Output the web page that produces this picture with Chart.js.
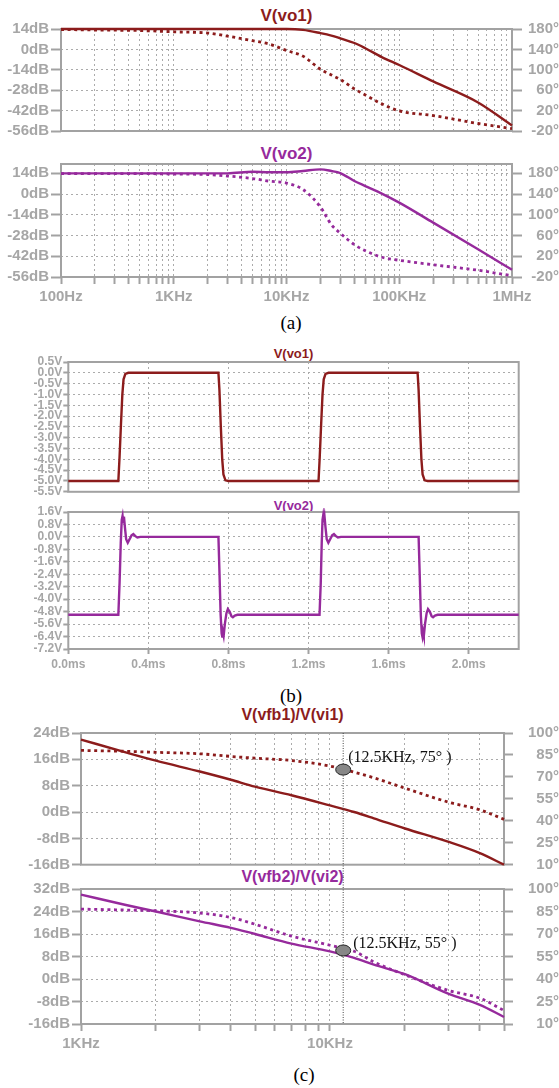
<!DOCTYPE html>
<html>
<head>
<meta charset="utf-8">
<title>LTspice plots</title>
<script src="https://cdn.jsdelivr.net/npm/chart.js@4.4.1/dist/chart.umd.min.js"></script>
<style>
  body { margin: 0; width: 559px; height: 1088px; background: #fff; position: relative; overflow: hidden; }
  canvas { position: absolute; left: 0; }
  .ttl { position: absolute; transform: translate(-50%, -50%); font-family: "Liberation Sans", Arial, sans-serif; font-weight: bold; white-space: nowrap; line-height: 1; }
  .cap { position: absolute; transform: translate(-50%, -50%); font-family: "Liberation Serif", "Times New Roman", serif; font-size: 19px; line-height: 1; }
</style>
</head>
<body>
<div class="ttl" style="left:286.5px;top:15px;font-size:17px;color:#8c1c1c">V(vo1)</div>
<div class="ttl" style="left:286.5px;top:153px;font-size:17px;color:#962a9c">V(vo2)</div>
<div class="cap" style="left:291px;top:322px">(a)</div>
<div class="ttl" style="left:293.5px;top:353px;font-size:13px;color:#8c1c1c">V(vo1)</div>
<div class="ttl" style="left:293.5px;top:505px;font-size:13px;color:#962a9c">V(vo2)</div>
<div class="cap" style="left:291px;top:695px">(b)</div>
<div class="ttl" style="left:292.5px;top:715px;font-size:16px;color:#8c1c1c">V(vfb1)/V(vi1)</div>
<div class="ttl" style="left:292.5px;top:877px;font-size:16px;color:#962a9c">V(vfb2)/V(vi2)</div>
<div class="cap" style="left:304px;top:1074px">(c)</div>
<script>
// (a) frequency response, 100Hz .. 1MHz
const aFreq = [100, 200, 500, 1000, 2000, 3000, 5000, 7000, 10000, 14000, 20000, 25000, 30000, 40000, 50000, 70000, 100000, 200000, 500000, 1000000];
const vo1Mag   = [14, 14, 14, 14, 14, 14, 14, 14, 14, 13.4, 11.2, 9.5, 7.6, 4.4, 0.8, -5.3, -10.7, -22, -36.4, -52.2];
const vo1Phase = [179, 178, 177, 174.5, 172, 166, 157, 150.6, 137.8, 126.8, 101, 90, 81, 62.6, 50.6, 33.2, 19.4, 10.3, -5.3, -15.4];
const vo2Mag   = [14, 14, 14, 14, 14, 14, 15.1, 14.7, 14.7, 15.6, 16.7, 15.6, 14.2, 8.8, 5.4, 0.3, -5.8, -19.3, -37.3, -51.1];
const vo2Phase = [179.6, 179.6, 179.6, 178.6, 177.7, 174.8, 170, 165, 161.2, 148.7, 115, 81, 64.5, 42.3, 30.7, 18.1, 12.3, 3.6, -7, -17.7];
const aFreqTicks  = [100, 1000, 10000, 100000, 1000000];
const aFreqLabels = ['100Hz', '1KHz', '10KHz', '100KHz', '1MHz'];
const aDbTicks    = [14, 0, -14, -28, -42, -56];
const aDbLabels   = ['14dB', '0dB', '-14dB', '-28dB', '-42dB', '-56dB'];
const aDegTicks   = [180, 140, 100, 60, 20, -20];
const aDegLabels  = ['180°', '140°', '100°', '60°', '20°', '-20°'];

// (b) transient, ms / V
const vo1T = [0, 0.25, 0.256, 0.263, 0.27, 0.276, 0.285, 0.30, 0.75, 0.755, 0.762, 0.769, 0.775, 0.785, 0.80,
              1.25, 1.256, 1.263, 1.27, 1.276, 1.285, 1.30, 1.745, 1.75, 1.757, 1.764, 1.77, 1.78, 1.795, 2.25];
const vo1V = [-5, -5, -3.9, -2.4, -1.0, -0.3, -0.05, 0, 0, -0.8, -2.5, -4.0, -4.7, -4.97, -5,
              -5, -3.9, -2.4, -1.0, -0.3, -0.05, 0, 0, -0.8, -2.5, -4.0, -4.7, -4.97, -5, -5];
const vo2T = [0, 0.25, 0.256, 0.262, 0.267, 0.271, 0.274, 0.278, 0.283, 0.289, 0.297, 0.306, 0.316, 0.325, 0.335, 0.345, 0.36,
              0.75, 0.755, 0.761, 0.766, 0.769, 0.772, 0.776, 0.782, 0.79, 0.797, 0.806, 0.815, 0.822, 0.832, 0.845,
              1.255, 1.261, 1.266, 1.27, 1.273, 1.276, 1.28, 1.285, 1.291, 1.299, 1.308, 1.318, 1.327, 1.337, 1.347, 1.362,
              1.75, 1.755, 1.761, 1.766, 1.769, 1.772, 1.776, 1.782, 1.79, 1.797, 1.806, 1.815, 1.822, 1.832, 1.845, 2.25];
const vo2V = [-5, -5, -3.0, -0.4, 1.1, 1.35, 0.95, 1.3, 0.6, -0.15, -0.38, -0.15, 0.1, 0.18, 0.05, -0.04, 0,
              0, -2.2, -5.0, -6.2, -6.4, -6.1, -6.35, -5.6, -4.9, -4.64, -4.8, -5.1, -5.16, -5.05, -5,
              -5, -3.0, -0.4, 1.1, 1.35, 0.95, 1.3, 0.6, -0.15, -0.38, -0.15, 0.1, 0.18, 0.05, -0.04, 0,
              0, -2.2, -5.0, -6.2, -6.4, -6.1, -6.35, -5.6, -4.9, -4.64, -4.8, -5.1, -5.16, -5.05, -5, -5];
const bTimeTicks  = [0, 0.4, 0.8, 1.2, 1.6, 2.0];
const bTimeLabels = ['0.0ms', '0.4ms', '0.8ms', '1.2ms', '1.6ms', '2.0ms'];
const b1Ticks  = [0.5, 0, -0.5, -1, -1.5, -2, -2.5, -3, -3.5, -4, -4.5, -5, -5.5];
const b1Labels = ['0.5V', '0.0V', '-0.5V', '-1.0V', '-1.5V', '-2.0V', '-2.5V', '-3.0V', '-3.5V', '-4.0V', '-4.5V', '-5.0V', '-5.5V'];
const b2Ticks  = [1.6, 0.8, 0, -0.8, -1.6, -2.4, -3.2, -4.0, -4.8, -5.6, -6.4, -7.2];
const b2Labels = ['1.6V', '0.8V', '0.0V', '-0.8V', '-1.6V', '-2.4V', '-3.2V', '-4.0V', '-4.8V', '-5.6V', '-6.4V', '-7.2V'];

// (c) loop gain, 1KHz .. 50KHz
const cFreq     = [1000, 1500, 2000, 3000, 4000, 5000, 7000, 10000, 12500, 15000, 20000, 30000, 40000, 50000];
const vfb1Mag   = [22, 18.2, 15.6, 12.3, 9.8, 7.7, 5.1, 2.0, 0.0, -1.9, -5.0, -9.1, -12.5, -16];
const vfb1Phase = [88.1, 87.5, 86.8, 85.8, 84, 82.8, 81.2, 77.4, 73.2, 69.4, 62.3, 52.7, 47.5, 41];
const vfb2Mag   = [30, 26.4, 24, 20.5, 18.2, 16.0, 12.6, 9.8, 7.5, 5.1, 1.7, -5.3, -9.2, -13.5];
const vfb2Phase = [86.6, 86, 85.5, 84, 81, 76.5, 68.6, 62.5, 58.5, 51.4, 42.8, 32.3, 27.2, 19];
const cFreqTicks  = [1000, 10000];
const cFreqLabels = ['1KHz', '10KHz'];
const c1DbTicks  = [24, 16, 8, 0, -8, -16];
const c1DbLabels = ['24dB', '16dB', '8dB', '0dB', '-8dB', '-16dB'];
const c2DbTicks  = [32, 24, 16, 8, 0, -8, -16];
const c2DbLabels = ['32dB', '24dB', '16dB', '8dB', '0dB', '-8dB', '-16dB'];
const cDegTicks  = [100, 85, 70, 55, 40, 25, 10];
const cDegLabels = ['100°', '85°', '70°', '55°', '40°', '25°', '10°'];
const markerFreq = 11300;
const marker1 = { deg: 75, text: '(12.5KHz, 75° )', dx: 5, dy: -8 };
const marker2 = { deg: 59, text: '(12.5KHz, 55° )', dx: 10, dy: -3 };

const W = 559;
const LBL = '#a6a6a6', FRAME = '#a2a2a2', GRID = '#ababab';
const RED = '#8c1c1c', PURPLE = '#962a9c';
const SANS = '"Liberation Sans", Arial, sans-serif';

// label lookup, blank for grid-only ticks
function lookup(vals, labels) {
  return v => {
    const i = vals.findIndex(t => Math.abs(t - v) <= 1e-6 * Math.max(1, Math.abs(t)));
    return i < 0 ? '' : labels[i];
  };
}

// 1..9 per decade, for the dotted log grid
function logGrid(min, max) {
  const out = [];
  for (let e = Math.floor(Math.log10(min)); e <= Math.ceil(Math.log10(max)); e++) {
    for (let m = 1; m < 10; m++) {
      const v = m * Math.pow(10, e);
      if (v >= min * 0.999 && v <= max * 1.001) out.push(v);
    }
  }
  return out;
}

const framePlugin = {
  id: 'frame',
  beforeDatasetsDraw(chart) {
    const a = chart.chartArea, ctx = chart.ctx;
    ctx.save();
    ctx.strokeStyle = FRAME;
    ctx.lineWidth = 2;
    ctx.strokeRect(a.left, a.top, a.right - a.left, a.bottom - a.top);
    ctx.restore();
  }
};

function markerPlugin(m, fromTop) {
  return {
    id: 'marker',
    afterDatasetsDraw(chart) {
      const ctx = chart.ctx;
      const x = chart.scales.x.getPixelForValue(markerFreq);
      const y = chart.scales.y2.getPixelForValue(m.deg);
      ctx.save();
      ctx.strokeStyle = '#444';
      ctx.lineWidth = 1;
      ctx.setLineDash([1, 1.5]);
      ctx.beginPath();
      ctx.moveTo(x, fromTop ? 0 : chart.chartArea.top);
      ctx.lineTo(x, fromTop ? chart.chartArea.bottom : chart.height);
      ctx.stroke();
      ctx.setLineDash([]);
      ctx.beginPath();
      ctx.ellipse(x, y, 7.5, 5.5, 0, 0, Math.PI * 2);
      ctx.fillStyle = '#878787';
      ctx.fill();
      ctx.strokeStyle = '#222';
      ctx.stroke();
      ctx.fillStyle = '#111';
      ctx.font = '16px "Liberation Serif", "Times New Roman", serif';
      ctx.fillText(m.text, x + m.dx, y + m.dy);
      ctx.restore();
    }
  };
}

function yScale(side, ax, p) {
  return {
    type: 'linear',
    position: side,
    min: ax.min,
    max: ax.max,
    afterBuildTicks: s => { s.ticks = ax.ticks.map(v => ({ value: v })); },
    afterFit: s => { s.width = side === 'left' ? p.box.l : W - p.box.r; },
    border: { display: false, dash: [2, 3] },
    grid: {
      drawOnChartArea: side === 'left', color: GRID, lineWidth: 1,
      tickLength: p.yTl, tickColor: FRAME, tickWidth: 2, tickBorderDash: []
    },
    ticks: {
      autoSkip: false, color: LBL, font: p.font, padding: p.yPad,
      crossAlign: side === 'left' ? 'near' : 'far',
      callback: lookup(ax.ticks, ax.labels)
    }
  };
}

function panel(p) {
  const padT = 12;
  const xh = p.xLabels ? p.xh : 0;
  const c = document.createElement('canvas');
  c.width = W;
  c.height = Math.round(padT + (p.box.b - p.box.t) + xh + p.padB);
  c.style.top = (p.box.t - padT) + 'px';
  document.body.appendChild(c);

  const scales = {
    x: {
      type: p.xType, min: p.xMin, max: p.xMax,
      afterBuildTicks: s => { s.ticks = p.xGrid.map(v => ({ value: v })); },
      afterFit: s => { s.height = xh; },
      border: { display: false, dash: [2, 3] },
      grid: {
        color: GRID, lineWidth: 1, drawTicks: p.xLabels,
        tickLength: p.xTl, tickColor: FRAME, tickWidth: 2, tickBorderDash: []
      },
      ticks: {
        display: p.xLabels, autoSkip: false, maxRotation: 0, color: LBL, font: p.font,
        padding: p.xPad, callback: lookup(p.xTicks, p.xTickLabels)
      }
    },
    y: yScale('left', p.left, p)
  };
  if (p.right) scales.y2 = yScale('right', p.right, p);

  new Chart(c, {
    type: 'line',
    data: {
      datasets: p.series.map(s => ({
        data: s.x.map((x, i) => ({ x: x, y: s.y[i] })),
        yAxisID: s.axis,
        borderColor: s.color,
        borderWidth: s.dotted ? 2.8 : 2.4,
        borderDash: s.dotted ? [3, 3.6] : [],
        pointRadius: 0,
        cubicInterpolationMode: p.smooth ? 'monotone' : 'default',
        tension: 0,
        clip: 4,
        fill: false
      }))
    },
    options: {
      responsive: false,
      animation: false,
      events: [],
      layout: { padding: { top: padT, bottom: p.padB, left: 0, right: p.right ? 0 : W - p.box.r } },
      plugins: { legend: { display: false }, tooltip: { enabled: false } },
      scales: scales
    },
    plugins: [framePlugin].concat(p.extra || [])
  });
}

const fontA = { family: SANS, size: 15, weight: 'bold' };
const fontB = { family: SANS, size: 12, weight: 'bold' };

// (a) top
panel({
  box: { l: 61, r: 512, t: 29, b: 138 }, padB: 4, xLabels: false,
  xType: 'logarithmic', xMin: 100, xMax: 1000000, xGrid: logGrid(100, 1000000),
  xTicks: aFreqTicks, xTickLabels: aFreqLabels, xTl: 8, xPad: 3,
  left: { min: -56, max: 14, ticks: aDbTicks, labels: aDbLabels },
  right: { min: -20, max: 180, ticks: aDegTicks, labels: aDegLabels },
  yTl: 10, yPad: 2, font: fontA, smooth: true,
  series: [
    { x: aFreq, y: vo1Phase, axis: 'y2', color: RED, dotted: true },
    { x: aFreq, y: vo1Mag, axis: 'y', color: RED }
  ]
});

// (a) bottom
panel({
  box: { l: 61, r: 512, t: 164, b: 277 }, padB: 4, xLabels: true, xh: 30,
  xType: 'logarithmic', xMin: 100, xMax: 1000000, xGrid: logGrid(100, 1000000),
  xTicks: aFreqTicks, xTickLabels: aFreqLabels, xTl: 7, xPad: 4,
  left: { min: -56, max: 20.3, ticks: aDbTicks, labels: aDbLabels },
  right: { min: -20, max: 198, ticks: aDegTicks, labels: aDegLabels },
  yTl: 10, yPad: 2, font: fontA, smooth: true,
  series: [
    { x: aFreq, y: vo2Phase, axis: 'y2', color: PURPLE, dotted: true },
    { x: aFreq, y: vo2Mag, axis: 'y', color: PURPLE }
  ]
});

// (b) top
panel({
  box: { l: 68.3, r: 518.7, t: 361.7, b: 495.7 }, padB: 4, xLabels: false,
  xType: 'linear', xMin: 0, xMax: 2.25, xGrid: bTimeTicks,
  xTicks: bTimeTicks, xTickLabels: bTimeLabels, xTl: 5, xPad: 3,
  left: { min: -5.5, max: 0.5, ticks: b1Ticks, labels: b1Labels },
  yTl: 5, yPad: 1, font: fontB,
  series: [{ x: vo1T, y: vo1V, axis: 'y', color: RED }]
});

// (b) bottom
panel({
  box: { l: 68.3, r: 518.7, t: 512.3, b: 649 }, padB: 4, xLabels: true, xh: 24,
  xType: 'linear', xMin: 0, xMax: 2.25, xGrid: bTimeTicks,
  xTicks: bTimeTicks, xTickLabels: bTimeLabels, xTl: 5, xPad: 3,
  left: { min: -7.2, max: 1.6, ticks: b2Ticks, labels: b2Labels },
  yTl: 5, yPad: 1, font: fontB,
  series: [{ x: vo2T, y: vo2V, axis: 'y', color: PURPLE }]
});

// (c) top
panel({
  box: { l: 81, r: 504, t: 733.3, b: 865 }, padB: 12.3, xLabels: false,
  xType: 'logarithmic', xMin: 1000, xMax: 50000, xGrid: logGrid(1000, 50000),
  xTicks: cFreqTicks, xTickLabels: cFreqLabels, xTl: 8, xPad: 3,
  left: { min: -16, max: 24, ticks: c1DbTicks, labels: c1DbLabels },
  right: { min: 10, max: 100, ticks: cDegTicks, labels: cDegLabels },
  yTl: 9, yPad: 2, font: fontA, smooth: true,
  series: [
    { x: cFreq, y: vfb1Phase, axis: 'y2', color: RED, dotted: true },
    { x: cFreq, y: vfb1Mag, axis: 'y', color: RED }
  ],
  extra: [markerPlugin(marker1, false)]
});

// (c) bottom
panel({
  box: { l: 81, r: 504, t: 889.3, b: 1024 }, padB: 4, xLabels: true, xh: 32,
  xType: 'logarithmic', xMin: 1000, xMax: 50000, xGrid: logGrid(1000, 50000),
  xTicks: cFreqTicks, xTickLabels: cFreqLabels, xTl: 7, xPad: 4,
  left: { min: -16, max: 32, ticks: c2DbTicks, labels: c2DbLabels },
  right: { min: 10, max: 100, ticks: cDegTicks, labels: cDegLabels },
  yTl: 9, yPad: 2, font: fontA, smooth: true,
  series: [
    { x: cFreq, y: vfb2Phase, axis: 'y2', color: PURPLE, dotted: true },
    { x: cFreq, y: vfb2Mag, axis: 'y', color: PURPLE }
  ],
  extra: [markerPlugin(marker2, true)]
});
</script>
</body>
</html>
